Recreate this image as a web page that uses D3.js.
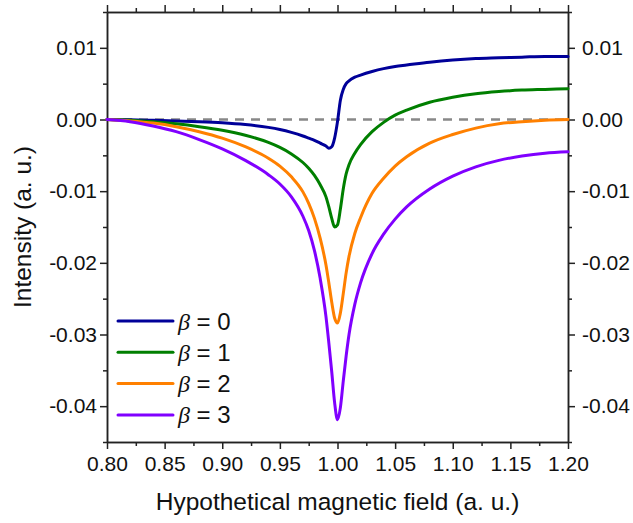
<!DOCTYPE html>
<html>
<head>
<meta charset="utf-8">
<script src="https://cdn.jsdelivr.net/npm/d3@7"></script>
<style>
  body { margin: 0; background: #fff; }
  svg { display: block; font-family: "Liberation Sans", Arial, sans-serif; }
</style>
</head>
<body>
<svg id="chart" width="633" height="523"></svg>
<script>
// field values (a. u.)
const field = [0.80, 0.82, 0.84, 0.86, 0.88, 0.90, 0.92, 0.94, 0.95, 0.96, 0.97, 0.975,
  0.98, 0.985, 0.99, 0.9925, 0.995, 0.9975, 1.0, 1.0025, 1.005, 1.0075, 1.01, 1.015,
  1.02, 1.03, 1.04, 1.05, 1.06, 1.08, 1.10, 1.12, 1.14, 1.16, 1.18, 1.20];

const beta0 = [0, -0.00005, -0.00012, -0.0002, -0.0003, -0.00045, -0.0007, -0.0011, -0.0014, -0.0018, -0.0023, -0.0026,
  -0.0029, -0.0033, -0.0037, -0.0040, -0.0038, -0.0026, -0.0003, 0.0027, 0.0042, 0.0050, 0.0054, 0.0059,
  0.0062, 0.0067, 0.0071, 0.0074, 0.0076, 0.0080, 0.0083, 0.0085, 0.0086, 0.0087, 0.0088, 0.0088];

const beta1 = [0, -0.0001, -0.0003, -0.0006, -0.0010, -0.0015, -0.0022, -0.0032, -0.0039, -0.0048, -0.0060, -0.0068,
  -0.0078, -0.0091, -0.0108, -0.0122, -0.0138, -0.0150, -0.0147, -0.0125, -0.0097, -0.0076, -0.0063, -0.0047,
  -0.0035, -0.0017, -0.0004, 0.0006, 0.0013, 0.0024, 0.0031, 0.0036, 0.0039, 0.0041, 0.0042, 0.0043];

const beta2 = [0, -0.0002, -0.0005, -0.0010, -0.0017, -0.0026, -0.0038, -0.0054, -0.0065, -0.0080, -0.0101, -0.0117,
  -0.0138, -0.0166, -0.0203, -0.0228, -0.0255, -0.0277, -0.0284, -0.0270, -0.0243, -0.0214, -0.0191, -0.0159,
  -0.0137, -0.0103, -0.0082, -0.0065, -0.0052, -0.0033, -0.0021, -0.0012, -0.0006, -0.0003, -0.0001, 0];

const beta3 = [0, -0.0003, -0.0009, -0.0017, -0.0028, -0.0041, -0.0057, -0.0077, -0.0090, -0.0108, -0.0135, -0.0155,
  -0.0183, -0.0222, -0.0275, -0.0312, -0.0352, -0.0395, -0.0419, -0.0402, -0.0365, -0.0330, -0.0300, -0.0258,
  -0.0228, -0.0187, -0.0160, -0.0139, -0.0122, -0.0097, -0.0079, -0.0066, -0.0057, -0.0051, -0.0047, -0.0045];

const seriesNames = ["0", "1", "2", "3"];
const seriesColors = ["#000099", "#007f00", "#ff8000", "#8000ff"];

const xTicks = [0.80, 0.85, 0.90, 0.95, 1.00, 1.05, 1.10, 1.15, 1.20];
const xTickLabels = ["0.80", "0.85", "0.90", "0.95", "1.00", "1.05", "1.10", "1.15", "1.20"];
const yTicks = [-0.04, -0.03, -0.02, -0.01, 0.00, 0.01];
const yTickLabels = ["-0.04", "-0.03", "-0.02", "-0.01", "0.00", "0.01"];

const svg = d3.select("#chart");
const margin = {top: 12, right: 65, bottom: 81, left: 107};
const width = +svg.attr("width");
const height = +svg.attr("height");

const x = d3.scaleLinear()
  .domain([0.8, 1.2])
  .range([margin.left, width - margin.right]);
const y = d3.scaleLinear()
  .domain([-0.045, 0.015])
  .range([height - margin.bottom, margin.top]);

const xMinor = d3.range(0.825, 1.2, 0.05);
const yMinor = d3.range(-0.045, 0.0151, 0.01);

const axisColor = "#222";

function styleAxis(g) {
  g.selectAll("path, line").attr("stroke", axisColor).attr("stroke-width", 1.5);
  g.selectAll("text").attr("font-size", 21).attr("fill", "#111");
}

const xFmt = (d, i) => xTickLabels[i];
const yFmt = (d, i) => yTickLabels[i];

// major ticks, all four sides
svg.append("g")
  .attr("transform", `translate(0,${y.range()[0]})`)
  .call(d3.axisBottom(x).tickValues(xTicks).tickFormat(xFmt).tickSize(7).tickSizeOuter(0).tickPadding(7))
  .call(styleAxis);
svg.append("g")
  .attr("transform", `translate(0,${y.range()[1]})`)
  .call(d3.axisTop(x).tickValues(xTicks).tickFormat("").tickSize(7).tickSizeOuter(0))
  .call(styleAxis);
svg.append("g")
  .attr("transform", `translate(${x.range()[0]},0)`)
  .call(d3.axisLeft(y).tickValues(yTicks).tickFormat(yFmt).tickSize(7).tickSizeOuter(0).tickPadding(3))
  .call(styleAxis);
svg.append("g")
  .attr("transform", `translate(${x.range()[1]},0)`)
  .call(d3.axisRight(y).tickValues(yTicks).tickFormat(yFmt).tickSize(7).tickSizeOuter(0).tickPadding(7))
  .call(styleAxis);

// minor ticks
svg.append("g")
  .attr("transform", `translate(0,${y.range()[0]})`)
  .call(d3.axisBottom(x).tickValues(xMinor).tickFormat("").tickSize(4).tickSizeOuter(0))
  .call(styleAxis);
svg.append("g")
  .attr("transform", `translate(0,${y.range()[1]})`)
  .call(d3.axisTop(x).tickValues(xMinor).tickFormat("").tickSize(4).tickSizeOuter(0))
  .call(styleAxis);
svg.append("g")
  .attr("transform", `translate(${x.range()[0]},0)`)
  .call(d3.axisLeft(y).tickValues(yMinor).tickFormat("").tickSize(4).tickSizeOuter(0))
  .call(styleAxis);
svg.append("g")
  .attr("transform", `translate(${x.range()[1]},0)`)
  .call(d3.axisRight(y).tickValues(yMinor).tickFormat("").tickSize(4).tickSizeOuter(0))
  .call(styleAxis);

// zero reference
svg.append("line")
  .attr("x1", x(0.8)).attr("x2", x(1.2))
  .attr("y1", y(0)).attr("y2", y(0))
  .attr("stroke", "#888")
  .attr("stroke-width", 2.5)
  .attr("stroke-dasharray", "9,7");

const line = d3.line()
  .x((d, i) => x(field[i]))
  .y(d => y(d))
  .curve(d3.curveMonotoneX);

const allSeries = [beta0, beta1, beta2, beta3];

svg.selectAll(".curve")
  .data(allSeries)
  .enter()
  .append("path")
    .attr("class", "curve")
    .attr("fill", "none")
    .attr("stroke", (d, i) => seriesColors[i])
    .attr("stroke-width", 3)
    .attr("stroke-linejoin", "round")
    .attr("stroke-linecap", "round")
    .attr("d", line);

// legend
const legend = svg.append("g").attr("transform", "translate(118,321)");
const rows = legend.selectAll("g")
  .data(seriesNames)
  .enter()
  .append("g")
    .attr("transform", (d, i) => `translate(0,${i * 31.3})`);
rows.append("line")
  .attr("x1", 0).attr("x2", 55)
  .attr("stroke", (d, i) => seriesColors[i])
  .attr("stroke-width", 3)
  .attr("stroke-linecap", "round");
const lt = rows.append("text")
  .attr("x", 60)
  .attr("y", 8.5)
  .attr("font-size", 24)
  .attr("fill", "#111");
lt.append("tspan")
  .attr("font-family", "'Liberation Serif', 'Times New Roman', serif")
  .attr("font-style", "italic")
  .text("β");
lt.append("tspan").text(d => " = " + d);

// axis titles
svg.append("text")
  .attr("x", (x.range()[0] + x.range()[1]) / 2)
  .attr("y", 510)
  .attr("text-anchor", "middle")
  .attr("font-size", 24.5)
  .attr("fill", "#111")
  .text("Hypothetical magnetic field (a. u.)");

svg.append("text")
  .attr("transform", `translate(31,${(y.range()[0] + y.range()[1]) / 2}) rotate(-90)`)
  .attr("text-anchor", "middle")
  .attr("font-size", 24.5)
  .attr("fill", "#111")
  .text("Intensity (a. u.)");
</script>
</body>
</html>
